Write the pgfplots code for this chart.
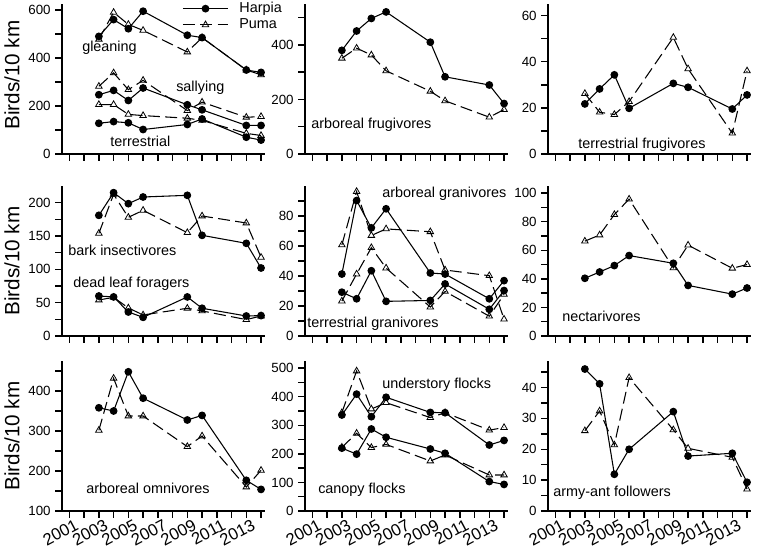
\documentclass[border=0pt]{standalone}
\usepackage{fontspec}
\setmainfont{Liberation Sans}
\usepackage{pgfplots}
\pgfplotsset{compat=1.18}
\pgfplotsset{
  panel/.style={
    scale only axis, width=152.6pt, height=112.5pt,
    xmin=2000.5, xmax=2014.3,
    axis x line=bottom, axis y line=left,
    axis line style={-, line width=1.4pt},
    xtick={2001,...,2014},
    xticklabels={},
    tick align=outside,
    major tick length=5pt,
    every tick/.style={black, line width=1.1pt},
    tick label style={font=\fontsize{10}{12}\selectfont},
    /pgf/number format/assume math mode=true,
    clip=false,
    anchor=south west,
  },
  bottomrow/.style={
    xticklabels={2001,,2003,,2005,,2007,,2009,,2011,,2013,},
    x tick label style={rotate=28, anchor=north east, inner sep=0pt, xshift=3pt, yshift=-2pt, font=\fontsize{12.5}{14}\selectfont},
  },
  harpia/.style={black, line width=0.8pt, mark=*, mark size=2.5pt},
  puma/.style={black, line width=0.8pt, dash pattern=on 9pt off 4pt, mark=triangle, mark size=2.8pt, mark options={solid, line width=0.6pt, fill=white}},
}
\newcommand{\ann}[3]{\node[anchor=west, inner sep=0pt, font=\fontsize{10.8}{12}\selectfont] at (#1*0.75pt, -#2*0.75pt) {#3};}
\begin{document}
\begin{tikzpicture}
\path[use as bounding box] (0,0) rectangle (567.75pt,-416.25pt);
% ---------------- Row 1 ----------------
\begin{axis}[panel, at={(46.5pt,-115.5pt)}, ymin=0, ymax=625,
  ytick={0,100,...,600}, yticklabels={0,,200,,400,,600},
  legend style={draw=none, fill=none, at={(0.59,1.03)}, anchor=north west, font=\fontsize{10.8}{12}\selectfont, row sep=-1pt, inner sep=0pt},
  legend cell align=left,
  legend image code/.code={\draw[mark repeat=2, mark phase=2] plot coordinates {(0pt,0pt) (17pt,0pt) (34pt,0pt)};}]
\addplot[harpia] coordinates {(2003,490) (2004,560) (2005,522) (2006,595) (2009,495) (2010,485) (2013,350) (2014,340)};
\addplot[puma] coordinates {(2003,478) (2004,590) (2005,540) (2006,515) (2009,425) (2010,485) (2013,350) (2014,330)};
\legend{\hspace{6pt}Harpia, \hspace{6pt}Puma}
\addplot[harpia] coordinates {(2003,247) (2004,265) (2005,223) (2006,275) (2009,205) (2010,184) (2013,119) (2014,119)};
\addplot[puma] coordinates {(2003,282) (2004,338) (2005,268) (2006,307) (2009,181) (2010,216) (2013,153) (2014,156)};
\addplot[harpia] coordinates {(2003,128) (2004,135) (2005,130) (2006,102) (2009,123) (2010,146) (2013,70) (2014,58)};
\addplot[puma] coordinates {(2003,206) (2004,206) (2005,165) (2006,160) (2009,149) (2010,140) (2013,86) (2014,77)};
\end{axis}
\begin{axis}[panel, at={(228.75pt,-115.5pt)}, ymin=0, ymax=550,
  ytick={0,100,...,500}, yticklabels={0,,200,,400,}]
\addplot[harpia] coordinates {(2003,380) (2004,451) (2005,497) (2006,521) (2009,410) (2010,283) (2013,253) (2014,185)};
\addplot[puma] coordinates {(2003,351) (2004,388) (2005,363) (2006,305) (2009,230) (2010,195) (2013,135) (2014,163)};
\end{axis}
\begin{axis}[panel, at={(411pt,-115.5pt)}, ymin=0, ymax=65,
  ytick={0,10,...,60}, yticklabels={0,,20,,40,,60}]
\addplot[harpia] coordinates {(2003,21.7) (2004,28.2) (2005,34.3) (2006,19.8) (2009,30.6) (2010,28.9) (2013,19.5) (2014,25.6)};
\addplot[puma] coordinates {(2003,26.2) (2004,18.1) (2005,17.1) (2006,22.7) (2009,50.5) (2010,36.9) (2013,9.0) (2014,36.0)};
\end{axis}
% ---------------- Row 2 ----------------
\begin{axis}[panel, at={(46.5pt,-252pt)}, ymin=0, ymax=225,
  ytick={0,25,...,200}, yticklabels={0,,50,,100,,150,,200}]
\addplot[harpia] coordinates {(2003,181) (2004,215) (2005,198.5) (2006,208.5) (2009,211) (2010,151) (2013,139) (2014,102)};
\addplot[puma] coordinates {(2003,154) (2004,212.5) (2005,178) (2006,188.5) (2009,155) (2010,180) (2013,169.5) (2014,118)};
\addplot[harpia] coordinates {(2003,60) (2004,58.6) (2005,36) (2006,28) (2009,58.6) (2010,41.6) (2013,30) (2014,30.6)};
\addplot[puma] coordinates {(2003,54) (2004,58) (2005,42) (2006,31.6) (2009,41.6) (2010,37.6) (2013,24.6) (2014,30)};
\end{axis}
\begin{axis}[panel, at={(228.75pt,-252pt)}, ymin=0, ymax=100,
  ytick={0,10,...,90}, yticklabels={0,,20,,40,,60,,80,}]
\addplot[harpia] coordinates {(2003,41.3) (2004,90.3) (2005,72.1) (2006,84.8) (2009,42) (2010,41.3) (2013,24.8) (2014,36.9)};
\addplot[puma] coordinates {(2003,60.7) (2004,96.3) (2005,67) (2006,71.4) (2009,69.5) (2010,44) (2013,40.2) (2014,11.2)};
\addplot[harpia] coordinates {(2003,29.2) (2004,24.8) (2005,43.5) (2006,23.1) (2009,23.7) (2010,34.7) (2013,17.8) (2014,30.3)};
\addplot[puma] coordinates {(2003,23.3) (2004,41.3) (2005,58.9) (2006,45.3) (2009,19.3) (2010,29.7) (2013,13.2) (2014,27.7)};
\end{axis}
\begin{axis}[panel, at={(411pt,-252pt)}, ymin=0, ymax=105,
  ytick={0,10,...,100}, yticklabels={0,,20,,40,,60,,80,,100}]
\addplot[harpia] coordinates {(2003,40.4) (2004,44.8) (2005,49.3) (2006,56.3) (2009,50.9) (2010,35.4) (2013,29.3) (2014,33.6)};
\addplot[puma] coordinates {(2003,66.4) (2004,70.7) (2005,85) (2006,95.8) (2009,47.7) (2010,63.6) (2013,47.4) (2014,50)};
\end{axis}
% ---------------- Row 3 ----------------
\begin{axis}[panel, bottomrow, at={(46.5pt,-383.25pt)}, ymin=100, ymax=475,
  ytick={100,150,...,450}, yticklabels={100,,200,,300,,400,}]
\addplot[harpia] coordinates {(2003,358) (2004,350) (2005,448) (2006,382) (2009,327.5) (2010,339) (2013,176.7) (2014,154)};
\addplot[puma] coordinates {(2003,301.7) (2004,431.7) (2005,337.5) (2006,337.5) (2009,261) (2010,287.5) (2013,160) (2014,201.7)};
\end{axis}
\begin{axis}[panel, bottomrow, at={(228.75pt,-383.25pt)}, ymin=0, ymax=525,
  ytick={0,50,...,500}, yticklabels={0,,100,,200,,300,,400,,500}]
\addplot[harpia] coordinates {(2003,336) (2004,409) (2005,330) (2006,398) (2009,345) (2010,344) (2013,231) (2014,247)};
\addplot[puma] coordinates {(2003,344) (2004,490) (2005,357) (2006,379) (2009,327) (2010,344) (2013,283) (2014,292)};
\addplot[harpia] coordinates {(2003,220) (2004,199) (2005,287) (2006,258) (2009,217) (2010,202) (2013,103) (2014,93)};
\addplot[puma] coordinates {(2003,223) (2004,272) (2005,222) (2006,233) (2009,175) (2010,196) (2013,126) (2014,126)};
\end{axis}
\begin{axis}[panel, bottomrow, at={(411pt,-383.25pt)}, ymin=0, ymax=48.6,
  ytick={0,5,...,45}, yticklabels={0,,10,,20,,30,,40,}]
\addplot[harpia] coordinates {(2003,46) (2004,41.2) (2005,11.9) (2006,20) (2009,32.2) (2010,17.8) (2013,18.7) (2014,9.3)};
\addplot[puma] coordinates {(2003,26) (2004,32.4) (2005,21.4) (2006,43.2) (2009,26.3) (2010,20.3) (2013,17.4) (2014,7.1)};
\end{axis}
% ---------------- labels ----------------
\foreach \yy in {75,261,436} {
  \node[rotate=90, font=\fontsize{15.5}{17}\selectfont, inner sep=0pt] at (12*0.75pt, -\yy*0.75pt) {Birds/10 km};
}
\ann{82}{48}{gleaning}
\ann{176}{88}{sallying}
\ann{110}{141}{terrestrial}
\ann{311}{125}{arboreal frugivores}
\ann{578}{145}{terrestrial frugivores}
\ann{68}{250}{bark insectivores}
\ann{73}{284}{dead leaf foragers}
\ann{382}{194}{arboreal granivores}
\ann{307}{324}{terrestrial granivores}
\ann{562}{316}{nectarivores}
\ann{86}{488}{arboreal omnivores}
\ann{382}{385}{understory flocks}
\ann{318}{490}{canopy flocks}
\ann{553}{493}{army-ant followers}
\end{tikzpicture}
\end{document}
